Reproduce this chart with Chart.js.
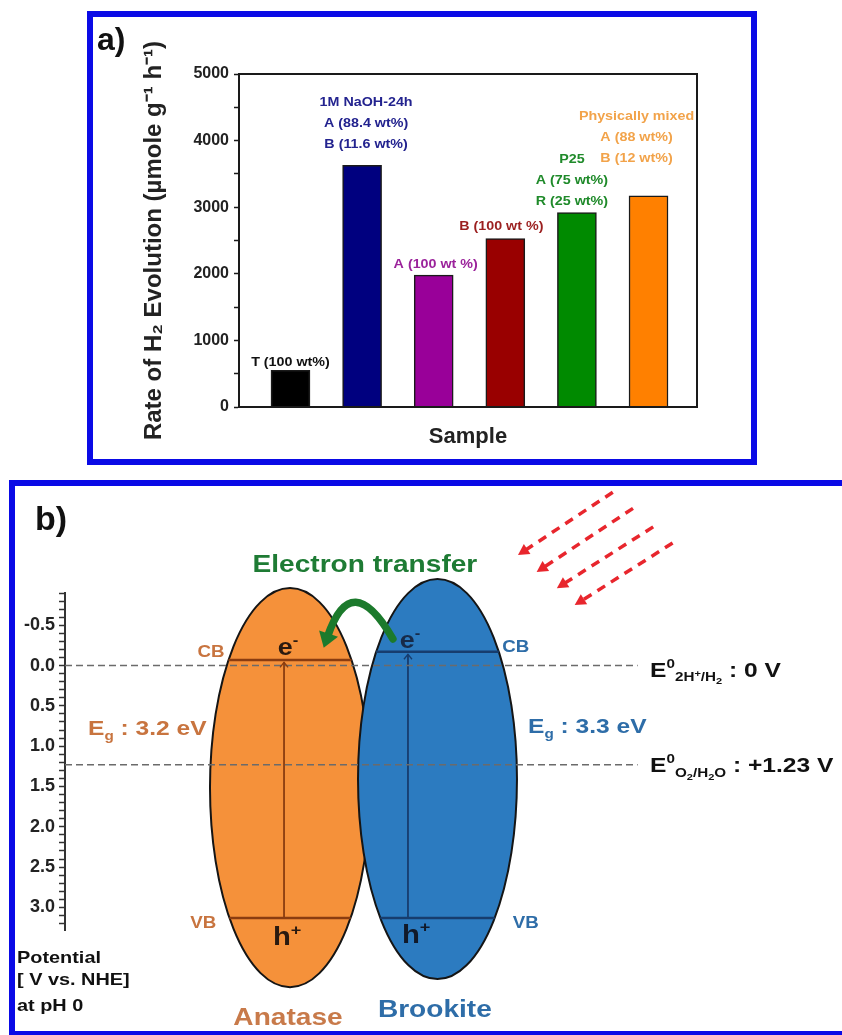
<!DOCTYPE html>
<html><head><meta charset="utf-8">
<script src="https://cdn.jsdelivr.net/npm/chart.js@4.4.1/dist/chart.umd.min.js"></script>
<style>
html,body{margin:0;padding:0;background:#fff;width:842px;height:1035px;overflow:hidden;position:relative;}
.frame{position:absolute;border:6px solid #0a0ae6;box-sizing:border-box;}
#fa{left:87px;top:11px;width:670px;height:454px;}
#fb{left:9px;top:480px;width:900px;height:557px;}
canvas{position:absolute;left:0;}
#ca{top:0;}
#cb{top:475px;}
.plabel{position:absolute;font-family:"Liberation Sans",Arial,sans-serif;font-weight:bold;color:#111;}
#la{left:97px;top:23px;font-size:32px;line-height:32px;}
#lb{left:35px;top:501px;font-size:34px;line-height:34px;}
</style></head>
<body>
<div class="frame" id="fa"></div>
<div class="frame" id="fb"></div>
<canvas id="ca" width="842" height="475"></canvas>
<canvas id="cb" width="842" height="560"></canvas>
<div class="plabel" id="la">a)</div>
<div class="plabel" id="lb">b)</div>
<script>
// ================= Panel a data =================
const sampleCategories = ['T', '1M NaOH-24h', 'Anatase', 'Brookite', 'P25', 'Physically mixed'];
const samplePositions = [1, 2, 3, 4, 5, 6];
const h2Rates = [550, 3630, 1980, 2530, 2920, 3170];
const barColors = ['#000000', '#00007f', '#990099', '#990000', '#008a00', '#ff8000'];
const rateTicks = [0, 500, 1000, 1500, 2000, 2500, 3000, 3500, 4000, 4500, 5000];
const rateTickLabels = ['0', '', '1000', '', '2000', '', '3000', '', '4000', '', '5000'];
const barNotes = [
  ['T (100 wt%)'],
  ['1M NaOH-24h', 'A (88.4 wt%)', 'B (11.6 wt%)'],
  ['A (100 wt %)'],
  ['B (100 wt %)'],
  ['P25', 'A (75 wt%)', 'R (25 wt%)'],
  ['Physically mixed', 'A (88 wt%)', 'B (12 wt%)']
];
const noteColors = ['#111111', '#23238f', '#9b239b', '#9b1f1f', '#1f8a2a', '#f2a34a'];

// ================= Panel b data =================
const potentialMajor = [-0.5, 0.0, 0.5, 1.0, 1.5, 2.0, 2.5, 3.0];
const potentialLabels = ['-0.5', '0.0', '0.5', '1.0', '1.5', '2.0', '2.5', '3.0'];
const phases = ['Anatase', 'Brookite'];
const cbEdge = [-0.07, -0.17];   // V vs NHE
const vbEdge = [3.13, 3.13];     // V vs NHE
const bandGapLabels = ['3.2', '3.3'];
const redoxLevels = [0, 1.23];   // H+/H2 and O2/H2O

// ================= styles / layout =================
const FONT = '"Liberation Sans", Arial, Helvetica, sans-serif';
const noteStyle = [{gap: 9, dx: 0}, {gap: 22, dx: 4}, {gap: 12, dx: 2}, {gap: 13, dx: -4}, {gap: 12, dx: -5}, {gap: 38, dx: -12}];
const particleShape = [
  {cx: 28.96, cy: 1.514, rx: 10.3, ry: 2.475, fill: '#f5913a', line: '#8a3c10', tx: 28.19},
  {cx: 47.94, cy: 1.408, rx: 10.23, ry: 2.481, fill: '#2c7bc0', line: '#173d6e', tx: 44.14}
];
const orangeText = '#c8743f', blueText = '#2e6da8';
const redoxLineEnd = 73.7;

const KIND = {n: [1, 0], sup: [0.62, -0.42], sub: [0.62, 0.22], subsup: [0.45, 0.02], subsub: [0.45, 0.36]};
function drawRich(ctx, segs, x, y, size, color, align, sx) {
  ctx.save();
  let w = 0;
  const parts = segs.map(([t, k]) => {
    const [f, dy] = KIND[k || 'n'];
    ctx.font = 'bold ' + (size * f) + 'px ' + FONT;
    const pw = ctx.measureText(t).width;
    const p = {t, font: ctx.font, dy: dy * size, off: w};
    w += pw;
    return p;
  });
  const total = w * sx;
  const start = align === 'center' ? x - total / 2 : align === 'right' ? x - total : x;
  ctx.translate(start, y);
  ctx.scale(sx, 1);
  ctx.fillStyle = color;
  ctx.textBaseline = 'alphabetic';
  ctx.textAlign = 'left';
  parts.forEach(p => { ctx.font = p.font; ctx.fillText(p.t, p.off, p.dy); });
  ctx.restore();
}

// ================= Chart a =================
const notesPlugin = {
  id: 'notes',
  afterDatasetsDraw(chart) {
    const {ctx, chartArea} = chart;
    const xs = chart.scales.x, ys = chart.scales.y;
    ctx.save();
    ctx.beginPath();
    ctx.rect(chartArea.left, 0, chartArea.right - chartArea.left, chartArea.bottom);
    ctx.clip();
    barNotes.forEach((lines, i) => {
      const cx = xs.getPixelForValue(samplePositions[i]) + noteStyle[i].dx;
      const top = ys.getPixelForValue(h2Rates[i]);
      lines.forEach((ln, j) => {
        const yMid = top - noteStyle[i].gap - (lines.length - 1 - j) * 21;
        drawRich(ctx, [[ln]], cx, yMid + 4.5, 13, noteColors[i], 'center', 1.1);
      });
    });
    ctx.restore();
  },
  afterDraw(chart) {
    const {ctx, chartArea: a} = chart;
    ctx.save();
    ctx.strokeStyle = '#1a1a1a';
    ctx.lineWidth = 2;
    ctx.strokeRect(a.left, a.top, a.right - a.left, a.bottom - a.top);
    ctx.restore();
  }
};

new Chart(document.getElementById('ca'), {
  type: 'bar',
  data: {
    labels: sampleCategories,
    datasets: [{
      label: 'Rate of H2 evolution',
      data: samplePositions.map((x, i) => ({x: x, y: h2Rates[i]})),
      backgroundColor: barColors,
      borderColor: '#1a1a1a',
      borderWidth: 1.5,
      barThickness: 39
    }]
  },
  options: {
    responsive: false, animation: false, events: [],
    layout: {padding: {left: 140, right: 145, top: 74, bottom: 25}},
    plugins: {legend: {display: false}, tooltip: {enabled: false}},
    scales: {
      x: {
        type: 'linear', min: 0.281, max: 6.677, offset: false,
        grid: {display: false, offset: false},
        border: {display: true, color: '#1a1a1a', width: 2},
        ticks: {display: false},
        title: {display: true, text: 'Sample', color: '#222', padding: 0, font: {family: FONT, size: 22, weight: 'bold'}},
        afterFit: s => { s.height = 43; }
      },
      y: {
        type: 'linear', min: 0, max: 5000,
        afterBuildTicks: s => { s.ticks = rateTicks.map(v => ({value: v})); },
        ticks: {
          autoSkip: false, padding: 5, color: '#222',
          font: {family: FONT, size: 16, weight: 'bold'},
          callback: (v) => { const i = rateTicks.indexOf(v); return i >= 0 ? rateTickLabels[i] : ''; }
        },
        grid: {drawOnChartArea: false, drawTicks: true, tickLength: 5, tickColor: '#1a1a1a', tickWidth: 1.5},
        border: {display: true, color: '#1a1a1a', width: 2},
        title: {display: true, text: 'Rate of H\u2082 Evolution (\u00b5mole g\u207b\u00b9 h\u207b\u00b9)', color: '#222', padding: 0, font: {family: FONT, size: 24, weight: 'bold'}},
        afterFit: s => { s.width = 99; }
      }
    }
  },
  plugins: [notesPlugin]
});

// ================= Chart b =================
function chord(p, v) {
  const r = (v - p.cy) / p.ry;
  const h = p.rx * Math.sqrt(Math.max(0, 1 - r * r));
  return [p.cx - h, p.cx + h];
}
const lineDatasets = [];
redoxLevels.forEach((lv, i) => {
  lineDatasets.push({label: 'redox ' + i, data: [{x: 0, y: lv}, {x: redoxLineEnd, y: lv}],
    borderColor: '#6b6b6b', borderWidth: 1.5, borderDash: [7, 4], pointRadius: 0, fill: false});
});
phases.forEach((ph, i) => {
  const p = particleShape[i];
  const c = chord(p, cbEdge[i]), v = chord(p, vbEdge[i]);
  lineDatasets.push({label: ph + ' CB', data: [{x: c[0], y: cbEdge[i]}, {x: c[1], y: cbEdge[i]}], borderColor: p.line, borderWidth: 2.5, pointRadius: 0, fill: false});
  lineDatasets.push({label: ph + ' VB', data: [{x: v[0], y: vbEdge[i]}, {x: v[1], y: vbEdge[i]}], borderColor: p.line, borderWidth: 2.5, pointRadius: 0, fill: false});
  lineDatasets.push({label: ph + ' gap', data: [{x: p.tx, y: vbEdge[i]}, {x: p.tx, y: cbEdge[i] + 0.03}], borderColor: p.line, borderWidth: 1.8, pointRadius: 0, fill: false});
});

const diagramTexts = [
  {segs: [['Electron transfer']], x: 38.6, v: -1.16, size: 24, color: '#1e7b34', align: 'center'},
  {segs: [['CB']], x: 18.8, v: -0.105, size: 16, color: orangeText, align: 'center'},
  {segs: [['e'], ['-', 'sup']], x: 28.7, v: -0.13, size: 23, color: '#2a1a10', align: 'center'},
  {segs: [['e'], ['-', 'sup']], x: 44.4, v: -0.22, size: 23, color: '#172a48', align: 'center'},
  {segs: [['CB']], x: 58.0, v: -0.17, size: 16, color: blueText, align: 'center'},
  {segs: [['E'], ['g', 'sub'], [' : ' + bandGapLabels[0] + ' eV']], x: 2.96, v: 0.86, size: 21, color: orangeText, align: 'left'},
  {segs: [['E'], ['g', 'sub'], [' : ' + bandGapLabels[1] + ' eV']], x: 59.6, v: 0.84, size: 21, color: blueText, align: 'left'},
  {segs: [['E'], ['0', 'sup'], ['2H', 'sub'], ['+', 'subsup'], ['/H', 'sub'], ['2', 'subsub'], [' : 0 V']], x: 75.3, v: redoxLevels[0] + 0.14, size: 21, color: '#111', align: 'left'},
  {segs: [['E'], ['0', 'sup'], ['O', 'sub'], ['2', 'subsub'], ['/H', 'sub'], ['2', 'subsub'], ['O', 'sub'], [' : +1.23 V']], x: 75.3, v: redoxLevels[1] + 0.09, size: 21, color: '#111', align: 'left'},
  {segs: [['VB']], x: 17.8, v: 3.26, size: 16, color: orangeText, align: 'center'},
  {segs: [['h'], ['+', 'sup']], x: 28.6, v: 3.47, size: 25, color: '#2a1a10', align: 'center'},
  {segs: [['h'], ['+', 'sup']], x: 45.2, v: 3.44, size: 25, color: '#111a2a', align: 'center'},
  {segs: [['VB']], x: 59.3, v: 3.26, size: 16, color: blueText, align: 'center'},
  {segs: [[phases[0]]], x: 28.7, v: 4.46, size: 24, color: '#c87a4a', align: 'center'},
  {segs: [[phases[1]]], x: 47.6, v: 4.36, size: 24, color: blueText, align: 'center'},
  {segs: [['Potential']], x: -6.18, v: 3.69, size: 17, color: '#111', align: 'left'},
  {segs: [['[ V vs. NHE]']], x: -6.18, v: 3.96, size: 17, color: '#111', align: 'left'},
  {segs: [['at pH 0']], x: -6.18, v: 4.29, size: 17, color: '#111', align: 'left'}
];
const lightArrows = [
  {from: [70.5, -2.15], to: [58.3, -1.37]},
  {from: [73.1, -1.95], to: [60.7, -1.16]},
  {from: [75.7, -1.72], to: [63.3, -0.96]},
  {from: [78.2, -1.52], to: [65.6, -0.75]}
];
const transferArrow = {from: [42.2, -0.33], via: [37.3, -0.75], to: [33.3, -0.22]};

function arrowHead(ctx, tipX, tipY, ux, uy, len, half) {
  ctx.beginPath();
  ctx.moveTo(tipX, tipY);
  ctx.lineTo(tipX - ux * len - uy * half, tipY - uy * len + ux * half);
  ctx.lineTo(tipX - ux * len + uy * half, tipY - uy * len - ux * half);
  ctx.closePath();
  ctx.fill();
}

const diagramPlugin = {
  id: 'diagram',
  beforeDatasetsDraw(chart) {
    const {ctx} = chart;
    const xs = chart.scales.x, ys = chart.scales.y;
    ctx.save();
    particleShape.forEach(p => {
      const cx = xs.getPixelForValue(p.cx), cy = ys.getPixelForValue(p.cy);
      const rx = Math.abs(xs.getPixelForValue(p.cx + p.rx) - cx);
      const ry = Math.abs(ys.getPixelForValue(p.cy + p.ry) - cy);
      ctx.beginPath();
      ctx.ellipse(cx, cy, rx, ry, 0, 0, Math.PI * 2);
      ctx.fillStyle = p.fill;
      ctx.fill();
      ctx.lineWidth = 2;
      ctx.strokeStyle = '#151515';
      ctx.stroke();
    });
    ctx.restore();
  },
  afterDatasetsDraw(chart) {
    const {ctx} = chart;
    const xs = chart.scales.x, ys = chart.scales.y;
    const P = (a) => [xs.getPixelForValue(a[0]), ys.getPixelForValue(a[1])];
    ctx.save();
    particleShape.forEach((p, i) => {
      const x = xs.getPixelForValue(p.tx), y = ys.getPixelForValue(cbEdge[i] + 0.03);
      ctx.strokeStyle = p.line; ctx.lineWidth = 1.3;
      ctx.beginPath(); ctx.moveTo(x - 4, y + 5); ctx.lineTo(x, y); ctx.lineTo(x + 4, y + 5); ctx.stroke();
    });
    const s = P(transferArrow.from), m = P(transferArrow.via), e = P(transferArrow.to);
    const c = [2 * m[0] - (s[0] + e[0]) / 2, 2 * m[1] - (s[1] + e[1]) / 2];
    let ux = e[0] - c[0], uy = e[1] - c[1];
    const L = Math.hypot(ux, uy); ux /= L; uy /= L;
    const headLen = 15;
    ctx.strokeStyle = '#1c7a2c'; ctx.fillStyle = '#1c7a2c';
    ctx.lineWidth = 7.5; ctx.lineCap = 'round';
    ctx.beginPath();
    ctx.moveTo(s[0], s[1]);
    ctx.quadraticCurveTo(c[0], c[1], e[0] - ux * (headLen - 3), e[1] - uy * (headLen - 3));
    ctx.stroke();
    arrowHead(ctx, e[0], e[1], ux, uy, headLen, 10);
    ctx.strokeStyle = '#e8262d'; ctx.fillStyle = '#e8262d';
    ctx.lineWidth = 3.5; ctx.lineCap = 'butt';
    lightArrows.forEach(a => {
      const f = P(a.from), t = P(a.to);
      let dx = t[0] - f[0], dy = t[1] - f[1];
      const l = Math.hypot(dx, dy); dx /= l; dy /= l;
      ctx.setLineDash([9, 7]);
      ctx.beginPath();
      ctx.moveTo(f[0], f[1]);
      ctx.lineTo(t[0] - dx * 8, t[1] - dy * 8);
      ctx.stroke();
      ctx.setLineDash([]);
      arrowHead(ctx, t[0], t[1], dx, dy, 11, 6);
    });
    diagramTexts.forEach(t => {
      drawRich(ctx, t.segs, xs.getPixelForValue(t.x), ys.getPixelForValue(t.v), t.size, t.color, t.align, 1.17);
    });
    ctx.restore();
  }
};

new Chart(document.getElementById('cb'), {
  type: 'line',
  data: {datasets: lineDatasets},
  options: {
    responsive: false, animation: false, events: [],
    layout: {padding: {left: 0, right: 0, top: 118, bottom: 105}},
    plugins: {legend: {display: false}, tooltip: {enabled: false}},
    elements: {line: {tension: 0}},
    scales: {
      x: {type: 'linear', display: false, min: 0, max: 100},
      y: {
        type: 'linear', reverse: true, min: -0.9, max: 3.28,
        afterBuildTicks: s => {
          const t = [];
          for (let k = -9; k <= 32; k++) t.push({value: Math.round(k) / 10});
          s.ticks = t;
        },
        ticks: {
          autoSkip: false, padding: 4, color: '#222',
          font: {family: FONT, size: 18, weight: 'bold'},
          callback: (v) => {
            const i = potentialMajor.findIndex(m => Math.abs(m - v) < 1e-6);
            return i >= 0 ? potentialLabels[i] : '';
          }
        },
        grid: {drawOnChartArea: false, drawTicks: true, tickLength: 6, tickColor: '#333', tickWidth: 1.5},
        border: {display: true, color: '#333', width: 2},
        afterFit: s => { s.width = 65; }
      }
    }
  },
  plugins: [diagramPlugin]
});
</script>
</body></html>
